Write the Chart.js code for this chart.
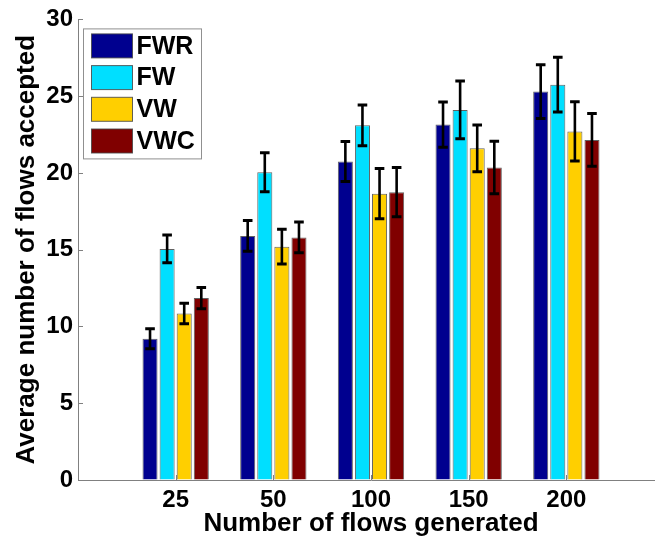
<!DOCTYPE html>
<html>
<head>
<meta charset="utf-8">
<script src="https://cdn.jsdelivr.net/npm/chart.js@4/dist/chart.umd.min.js"></script>
<style>
  html, body { margin: 0; padding: 0; background: #fff; overflow: hidden; width: 655px; height: 540px; }
  canvas { display: block; }
</style>
</head>
<body>
<canvas id="c" width="680" height="540"></canvas>
<script>
// ---- data ----
const categories = ['25', '50', '100', '150', '200'];
const seriesNames = ['FWR', 'FW', 'VW', 'VWC'];
const fwrValues = [9.2, 15.9, 20.75, 23.15, 25.3];
const fwrErrors = [0.65, 1.0, 1.3, 1.47, 1.75];
const fwValues = [15.05, 20.05, 23.1, 24.1, 25.75];
const fwErrors = [0.9, 1.27, 1.33, 1.88, 1.78];
const vwValues = [10.85, 15.2, 18.65, 21.6, 22.7];
const vwErrors = [0.67, 1.13, 1.64, 1.53, 1.93];
const vwcValues = [11.85, 15.8, 18.75, 20.35, 22.15];
const vwcErrors = [0.69, 1.0, 1.6, 1.71, 1.72];
const yTicks = [0, 5, 10, 15, 20, 25, 30];

const seriesColors = ['#00008F', '#00DFFF', '#FFCF00', '#800000'];
const allValues = [fwrValues, fwValues, vwValues, vwcValues];
const allErrors = [fwrErrors, fwErrors, vwErrors, vwcErrors];

// pad with empty slots at both ends (axis runs from 0 to 6)
const labels = [''].concat(categories, ['']);
const pad = arr => [null].concat(arr, [null]);

const FONT = '"Liberation Sans", Arial, sans-serif';

const datasets = seriesNames.map((name, i) => ({
  label: name,
  data: pad(allValues[i]),
  errors: pad(allErrors[i]),
  backgroundColor: seriesColors[i],
  borderColor: 'rgba(70,70,70,0.85)',
  borderWidth: 1,
  categoryPercentage: 0.70,
  barPercentage: 0.88
}));

const errorBarPlugin = {
  id: 'errorBars',
  afterDatasetsDraw(chart) {
    const ctx = chart.ctx;
    const y = chart.scales.y;
    ctx.save();
    ctx.strokeStyle = '#000';
    chart.data.datasets.forEach((ds, i) => {
      const meta = chart.getDatasetMeta(i);
      meta.data.forEach((bar, j) => {
        const v = ds.data[j];
        const e = ds.errors[j];
        if (v == null || e == null) return;
        const yt = y.getPixelForValue(v + e);
        const yb = y.getPixelForValue(v - e);
        const x = bar.x;
        ctx.lineWidth = 2.6;
        ctx.beginPath();
        ctx.moveTo(x, yt); ctx.lineTo(x, yb);
        ctx.stroke();
        ctx.lineWidth = 3;
        ctx.beginPath();
        ctx.moveTo(x - 4.8, yt); ctx.lineTo(x + 4.8, yt);
        ctx.moveTo(x - 4.8, yb); ctx.lineTo(x + 4.8, yb);
        ctx.stroke();
      });
    });
    ctx.restore();
  }
};

const inwardTicksPlugin = {
  id: 'inwardTicks',
  afterDraw(chart) {
    const ctx = chart.ctx;
    const {left, bottom} = chart.chartArea;
    const x = chart.scales.x, y = chart.scales.y;
    ctx.save();
    ctx.strokeStyle = '#808080';
    ctx.lineWidth = 1;
    ctx.beginPath();
    yTicks.forEach(t => {
      const py = Math.round(y.getPixelForValue(t)) + 0.5;
      ctx.moveTo(left, py); ctx.lineTo(left + 5, py);
    });
    categories.forEach((c, k) => {
      const px = Math.round(x.getPixelForValue(k + 1)) + 0.5;
      ctx.moveTo(px, bottom); ctx.lineTo(px, bottom - 5);
    });
    ctx.stroke();
    ctx.restore();
  }
};

const boxLegendPlugin = {
  id: 'boxLegend',
  afterDraw(chart) {
    const ctx = chart.ctx;
    const {left, top} = chart.chartArea;
    const bx = left + 5.5, by = top + 9.5, bw = 118, bh = 130;
    ctx.save();
    ctx.fillStyle = '#fff';
    ctx.fillRect(bx, by, bw, bh);
    ctx.strokeStyle = '#909090';
    ctx.lineWidth = 1;
    ctx.strokeRect(bx, by, bw, bh);
    ctx.font = 'bold 25px ' + FONT;
    ctx.textBaseline = 'middle';
    ctx.textAlign = 'left';
    chart.data.datasets.forEach((ds, i) => {
      const sy = by + 5 + i * 31.7;
      ctx.fillStyle = ds.backgroundColor;
      ctx.fillRect(bx + 8, sy, 41, 24);
      ctx.strokeStyle = 'rgba(70,70,70,0.85)';
      ctx.strokeRect(bx + 8, sy, 41, 24);
      ctx.fillStyle = '#000';
      ctx.fillText(ds.label, bx + 53, sy + 13);
    });
    ctx.restore();
  }
};

new Chart(document.getElementById('c'), {
  type: 'bar',
  data: { labels: labels, datasets: datasets },
  options: {
    responsive: false,
    animation: false,
    devicePixelRatio: 1,
    layout: { padding: { top: 15, right: 16, left: 0, bottom: 0 } },
    plugins: {
      legend: { display: false },
      tooltip: { enabled: false }
    },
    scales: {
      x: {
        type: 'category',
        offset: false,
        grid: { display: true, drawOnChartArea: false, drawTicks: false, offset: false },
        border: { display: true, color: '#808080', width: 1 },
        ticks: {
          autoSkip: false, maxRotation: 0, minRotation: 0,
          padding: 6,
          color: '#000',
          font: { family: FONT, size: 24, weight: 'bold' }
        },
        title: {
          display: true,
          text: 'Number of flows generated',
          color: '#000',
          font: { family: FONT, size: 26, weight: 'bold', lineHeight: 1 },
          padding: { top: 0, bottom: 3 }
        },
        afterFit(scale) { scale.height = 60; }
      },
      y: {
        min: 0, max: 30,
        afterBuildTicks(scale) { scale.ticks = yTicks.map(v => ({ value: v })); },
        grid: { display: true, drawOnChartArea: false, drawTicks: false },
        border: { display: true, color: '#808080', width: 1 },
        ticks: {
          padding: 5,
          color: '#000',
          font: { family: FONT, size: 24, weight: 'bold' }
        },
        title: {
          display: true,
          text: 'Average number of flows accepted',
          color: '#000',
          font: { family: FONT, size: 26, weight: 'bold', lineHeight: 1 },
          padding: { top: 14, bottom: 0 }
        },
        afterFit(scale) { scale.width = 78; }
      }
    }
  },
  plugins: [errorBarPlugin, inwardTicksPlugin, boxLegendPlugin]
});
</script>
</body>
</html>
